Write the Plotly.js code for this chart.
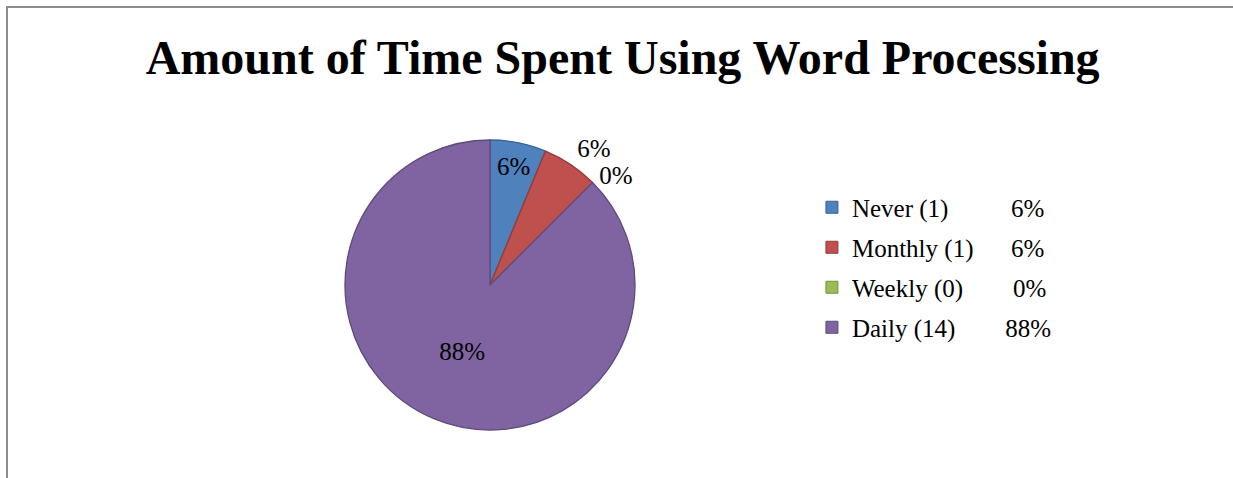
<!DOCTYPE html>
<html>
<head>
<meta charset="utf-8">
<script src="https://cdn.plot.ly/plotly-3.0.1.min.js"></script>
<style>
  html, body { margin: 0; padding: 0; background: #ffffff; }
  #chart { width: 1233px; height: 478px; position: absolute; left: 0; top: 0; }
  #frame { position: absolute; left: 6px; top: 6px; width: 1240px; height: 490px;
           border-left: 2px solid #8c8c8c; border-top: 2px solid #8c8c8c; pointer-events: none; }
  path.textline { stroke-opacity: 0 !important; }
</style>
</head>
<body>
<div id="chart"></div>
<div id="frame"></div>
<script>
// ---- data ----
const categories = ["Never", "Monthly", "Weekly", "Daily"];
const counts = [1, 1, 0, 14];
const percentLabels = ["6%", "6%", "0%", "88%"];
const sliceColors = ["#4F81BD", "#C0504D", "#9BBB59", "#8064A2"];
const sliceEdges = ["#3A6394", "#953B39", "#76923C", "#5F4A7C"];
const chartTitle = "Amount of Time Spent Using Word Processing";

const FONT = "Liberation Serif";
const LEG_SIZE = 25;

// build legend names with a centred percent column
const ctx = document.createElement("canvas").getContext("2d");
ctx.font = LEG_SIZE + "px 'Liberation Serif'";
const spaceW = ctx.measureText("\u00A0").width || LEG_SIZE * 0.25;
const colCenter = 175;
const legendNames = categories.map((c, i) => {
  const base = c + " (" + counts[i] + ")";
  const bw = ctx.measureText(base).width;
  const pw = ctx.measureText(percentLabels[i]).width;
  const n = Math.max(1, Math.round((colCenter - pw / 2 - bw) / spaceW));
  return base + "\u00A0".repeat(n) + percentLabels[i];
});

const traces = [{
  type: "pie",
  labels: categories,
  values: counts,
  text: percentLabels,
  texttemplate: "%{text}",
  textinfo: "text",
  textposition: ["inside", "outside", "outside", "inside"],
  insidetextorientation: "horizontal",
  sort: false,
  direction: "clockwise",
  rotation: 0,
  showlegend: false,
  hoverinfo: "label+value+percent",
  marker: { colors: sliceColors, line: { color: sliceEdges, width: 1.3 } },
  textfont: { family: FONT, size: LEG_SIZE, color: "#000000" },
  insidetextfont: { family: FONT, size: LEG_SIZE, color: "#000000" },
  outsidetextfont: { family: FONT, size: LEG_SIZE, color: "#000000" },
  automargin: false,
  domain: { x: [0.2798, 0.5150], y: [0.1004, 0.7071] }
}];

categories.forEach((c, i) => {
  traces.push({
    type: "scatter",
    mode: "markers",
    x: [null], y: [null],
    name: legendNames[i],
    legendgroup: "g" + i,
    showlegend: true,
    hoverinfo: "skip",
    marker: { symbol: "square", size: 12, color: sliceColors[i], line: { color: sliceEdges[i], width: 1 } }
  });
});

const layout = {
  width: 1233, height: 478,
  margin: { l: 0, r: 0, t: 0, b: 0 },
  paper_bgcolor: "#ffffff",
  plot_bgcolor: "#ffffff",
  font: { family: FONT, color: "#000000" },
  title: {
    text: chartTitle,
    font: { family: FONT, size: 48, weight: 700, color: "#000000" },
    x: 0.505, xanchor: "center",
    y: 0.88, yanchor: "middle", yref: "container"
  },
  xaxis: { visible: false, fixedrange: true },
  yaxis: { visible: false, fixedrange: true },
  showlegend: true,
  legend: {
    x: 0.6585, xanchor: "left",
    y: 0.614, yanchor: "top",
    font: { family: FONT, size: LEG_SIZE, color: "#000000" },
    tracegroupgap: 4.5,
    itemwidth: 30,
    bgcolor: "rgba(0,0,0,0)"
  }
};

Plotly.newPlot("chart", traces, layout, { displayModeBar: false, staticPlot: true });
</script>
</body>
</html>
